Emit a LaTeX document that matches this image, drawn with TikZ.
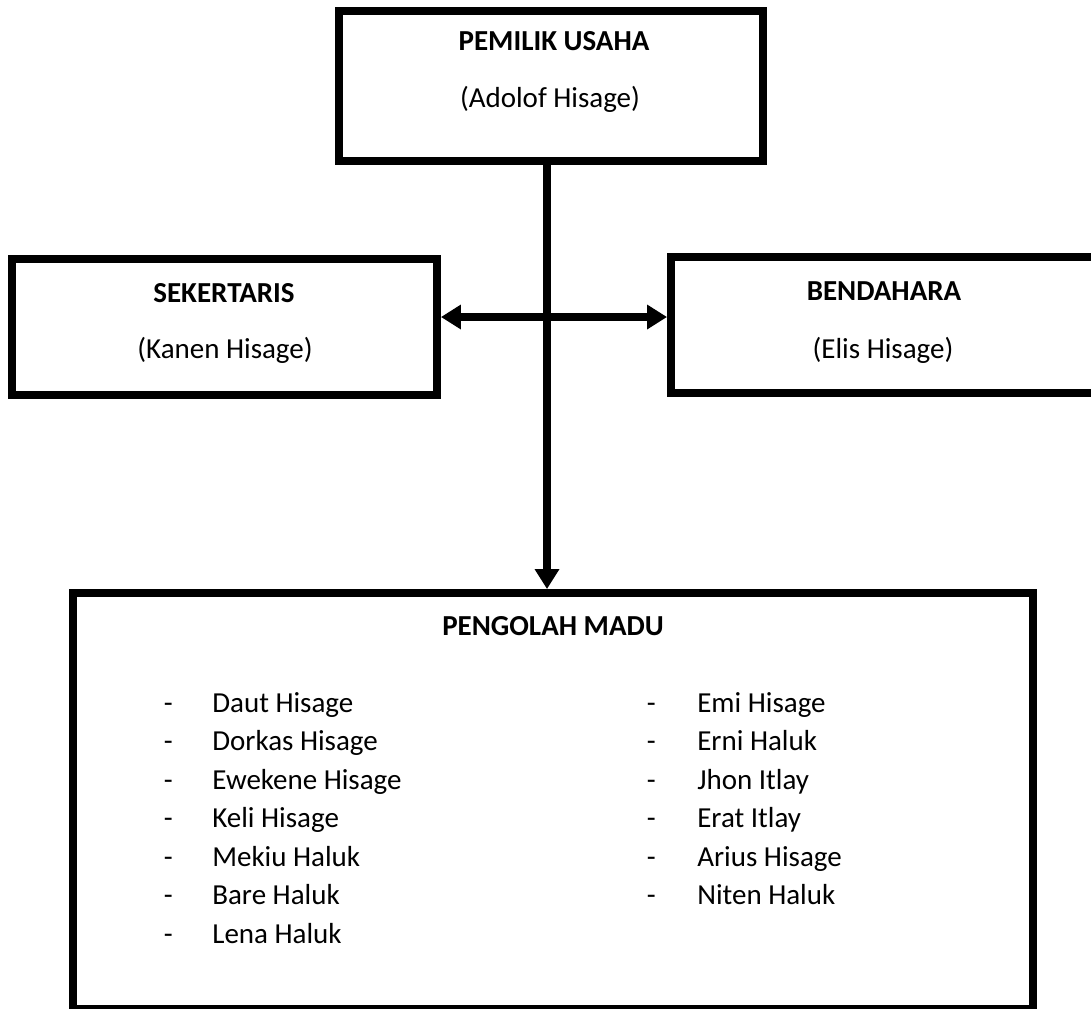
\documentclass[tikz,border=0pt]{standalone}
\usepackage{fontspec}
\setmainfont{Carlito}
\usetikzlibrary{arrows.meta}

\begin{document}
\begin{tikzpicture}[x=0.02cm, y=-0.02cm]

\useasboundingbox (0,0) rectangle (1091,1008);
\clip (0,0) rectangle (1091,1008);
\fill [white] (0,0) rectangle (1091,1008);

\begin{scope}[every node/.style={rectangle, draw, line width=0.16cm, inner sep=0pt}]
    % Boxes of the structure
    \node (A) at (551,86) [minimum width=8.48cm, minimum height=3cm] {};
    \node (B) at (224.5,327) [minimum width=8.5cm, minimum height=2.72cm] {};
    \node (C) at (884,325) [minimum width=8.52cm, minimum height=2.72cm] {};
    \node (D) at (553,801) [minimum width=19.2cm, minimum height=8.32cm] {};
\end{scope}

\tikzset{TitleText/.style={font=\fontsize{16.5}{20}\selectfont\bfseries, anchor=base, inner sep=0pt},
         NameText/.style={font=\fontsize{16.5}{20}\selectfont, anchor=base, inner sep=0pt},
         ListItem/.style={font=\fontsize{16.5}{20}\selectfont, anchor=base west, inner sep=0pt}}

\begin{scope}[>={Triangle[length=0.4cm, width=0.47cm]}, line width=0.16cm]
    \draw [->] ([xshift=-0.08cm]A.south) -- ([xshift=-0.08cm]A.south |- D.north);
    \draw [<->] ([yshift=0.2cm]B.east) -- ([yshift=0.2cm]B.east -| C.west);
\end{scope}

\node (A1) at (554,50) [TitleText] {PEMILIK USAHA};
\node (A2) at (550,107) [NameText] {(Adolof Hisage)};

\node (B1) at (224,302) [TitleText] {SEKERTARIS};
\node (B2) at (225,358) [NameText] {(Kanen Hisage)};

\node (C1) at (884,300) [TitleText] {BENDAHARA};
\node (C2) at (883,358) [NameText] {(Elis Hisage)};

\node (D0) at (553,635) [TitleText] {PENGOLAH MADU};

% Left column
\node (L1) at (163.5,712) [ListItem] {\makebox[0.97cm][l]{-}Daut Hisage};
\node (L2) at (163.5,750.5) [ListItem] {\makebox[0.97cm][l]{-}Dorkas Hisage};
\node (L3) at (163.5,789) [ListItem] {\makebox[0.97cm][l]{-}Ewekene Hisage};
\node (L4) at (163.5,827.5) [ListItem] {\makebox[0.97cm][l]{-}Keli Hisage};
\node (L5) at (163.5,866) [ListItem] {\makebox[0.97cm][l]{-}Mekiu Haluk};
\node (L6) at (163.5,904.5) [ListItem] {\makebox[0.97cm][l]{-}Bare Haluk};
\node (L7) at (163.5,943) [ListItem] {\makebox[0.97cm][l]{-}Lena Haluk};

% Right column
\node (R1) at (646.5,712) [ListItem] {\makebox[1.01cm][l]{-}Emi Hisage};
\node (R2) at (646.5,750.5) [ListItem] {\makebox[1.01cm][l]{-}Erni Haluk};
\node (R3) at (646.5,789) [ListItem] {\makebox[1.01cm][l]{-}Jhon Itlay};
\node (R4) at (646.5,827.5) [ListItem] {\makebox[1.01cm][l]{-}Erat Itlay};
\node (R5) at (646.5,866) [ListItem] {\makebox[1.01cm][l]{-}Arius Hisage};
\node (R6) at (646.5,904.5) [ListItem] {\makebox[1.01cm][l]{-}Niten Haluk};

\end{tikzpicture}
\end{document}
